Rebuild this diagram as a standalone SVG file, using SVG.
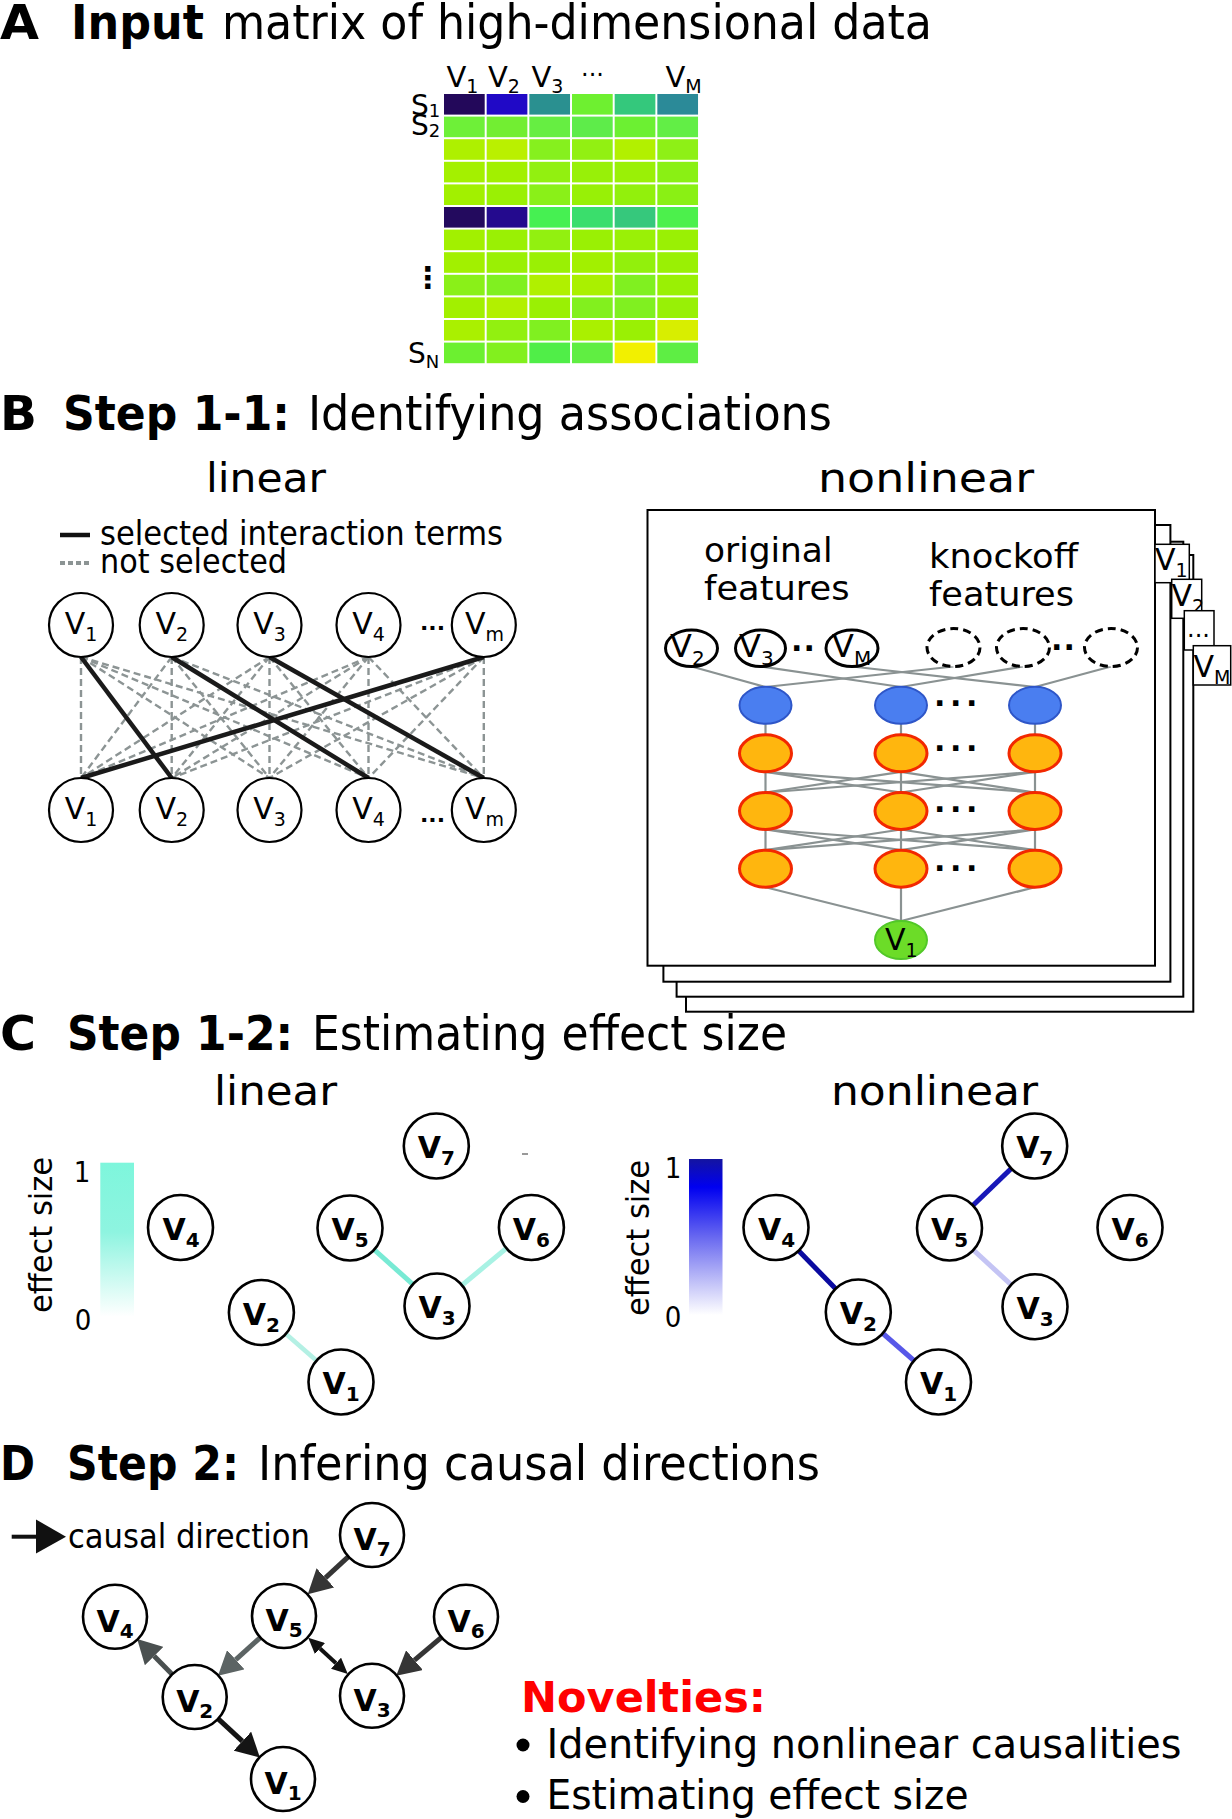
<svg xmlns="http://www.w3.org/2000/svg" width="1232" height="1819" viewBox="0 0 1232 1819">
<style>
.f{font-family:"DejaVu Sans",sans-serif}
.fc{font-family:"DejaVu Sans Condensed","DejaVu Sans",sans-serif}
.bd{font-family:"DejaVu Sans",sans-serif;font-weight:bold}
.ttl{font-size:48px}
.sub{font-size:40px}
.node{fill:#fff;stroke:#000;stroke-width:2.6}
.bn{fill:#fff;stroke:#000;stroke-width:2.2}
.lb{font-family:"DejaVu Sans",sans-serif;font-weight:bold;font-size:30px;text-anchor:middle}
.lb tspan{font-size:20px}
.ln{font-family:"DejaVu Sans",sans-serif;font-size:30px;text-anchor:middle}
.ln tspan{font-size:19px}
.dash{stroke:#8c9494;stroke-width:2.4;stroke-dasharray:7 4;fill:none}
.sel{stroke:#1a1a1a;stroke-width:4.5}
.nn{stroke:#8a9292;stroke-width:2.2}
.blue{fill:#4a7ef0;stroke:#2e56c8;stroke-width:2}
.org{fill:#ffb60e;stroke:#f22800;stroke-width:3}
.inp{fill:#fff;stroke:#000;stroke-width:3}
.ko{fill:#fff;stroke:#000;stroke-width:3;stroke-dasharray:8 5}
.box{fill:#fff;stroke:#000;stroke-width:2}
.tab{fill:#fff;stroke:#000;stroke-width:1.5}
.cell{stroke:none}
.dots{font-family:"DejaVu Sans",sans-serif;font-weight:bold}
</style>
<defs>
<linearGradient id="gLin" x1="0" y1="0" x2="0" y2="1">
<stop offset="0" stop-color="#7ef6dc"/>
<stop offset="0.45" stop-color="#8ef4e0"/>
<stop offset="1" stop-color="#ffffff"/>
</linearGradient>
<linearGradient id="gNon" x1="0" y1="0" x2="0" y2="1">
<stop offset="0" stop-color="#1414a0"/>
<stop offset="0.18" stop-color="#0000f0"/>
<stop offset="0.5" stop-color="#6868f0"/>
<stop offset="0.8" stop-color="#c4c4f8"/>
<stop offset="1" stop-color="#ffffff"/>
</linearGradient>
<marker id="ah333" markerUnits="userSpaceOnUse" markerWidth="24" markerHeight="26" viewBox="0 0 24 26" refX="0" refY="13" orient="auto"><path d="M0,0 L24,13 L0,26 z" fill="#353535"/></marker>
<marker id="ah5c" markerUnits="userSpaceOnUse" markerWidth="24" markerHeight="26" viewBox="0 0 24 26" refX="0" refY="13" orient="auto"><path d="M0,0 L24,13 L0,26 z" fill="#5c6464"/></marker>
<marker id="ah4a" markerUnits="userSpaceOnUse" markerWidth="24" markerHeight="26" viewBox="0 0 24 26" refX="0" refY="13" orient="auto"><path d="M0,0 L24,13 L0,26 z" fill="#4a5050"/></marker>
<marker id="ah15" markerUnits="userSpaceOnUse" markerWidth="24" markerHeight="26" viewBox="0 0 24 26" refX="0" refY="13" orient="auto"><path d="M0,0 L24,13 L0,26 z" fill="#151515"/></marker>
<marker id="ahs" markerUnits="userSpaceOnUse" markerWidth="16" markerHeight="15" viewBox="0 0 16 15" refX="0" refY="7.5" orient="auto-start-reverse"><path d="M0,0 L16,7.5 L0,15 z" fill="#111"/></marker>
</defs>
<rect width="1232" height="1819" fill="#fff"/>

<!-- ===== A ===== -->
<g id="titleA">
<text class="bd ttl" x="0" y="39" textLength="39" lengthAdjust="spacingAndGlyphs">A</text>
<text class="bd ttl" x="71" y="39" textLength="133" lengthAdjust="spacingAndGlyphs">Input</text>
<text class="fc ttl" x="222" y="39" textLength="710" lengthAdjust="spacingAndGlyphs">matrix of high-dimensional data</text>
</g>
<g id="matrix">
<g class="cell">
<rect x="444" y="94" width="40.7" height="20.6" fill="#23085a"/><rect x="486.67" y="94" width="40.7" height="20.6" fill="#2009c6"/><rect x="529.33" y="94" width="40.7" height="20.6" fill="#2a9090"/><rect x="572" y="94" width="40.7" height="20.6" fill="#6ef030"/><rect x="614.67" y="94" width="40.7" height="20.6" fill="#34c87c"/><rect x="657.33" y="94" width="40.7" height="20.6" fill="#2b8a98"/>
<rect x="444" y="116.6" width="40.7" height="20.6" fill="#6ef038"/><rect x="486.67" y="116.6" width="40.7" height="20.6" fill="#72ee32"/><rect x="529.33" y="116.6" width="40.7" height="20.6" fill="#66ee42"/><rect x="572" y="116.6" width="40.7" height="20.6" fill="#5eec4a"/><rect x="614.67" y="116.6" width="40.7" height="20.6" fill="#6cf032"/><rect x="657.33" y="116.6" width="40.7" height="20.6" fill="#62ee46"/>
<rect x="444" y="139.2" width="40.7" height="20.6" fill="#aef000"/><rect x="486.67" y="139.2" width="40.7" height="20.6" fill="#baf000"/><rect x="529.33" y="139.2" width="40.7" height="20.6" fill="#86f01e"/><rect x="572" y="139.2" width="40.7" height="20.6" fill="#92f012"/><rect x="614.67" y="139.2" width="40.7" height="20.6" fill="#b2f000"/><rect x="657.33" y="139.2" width="40.7" height="20.6" fill="#8ef016"/>
<rect x="444" y="161.8" width="40.7" height="20.6" fill="#a4f000"/><rect x="486.67" y="161.8" width="40.7" height="20.6" fill="#a2f000"/><rect x="529.33" y="161.8" width="40.7" height="20.6" fill="#92f010"/><rect x="572" y="161.8" width="40.7" height="20.6" fill="#98f008"/><rect x="614.67" y="161.8" width="40.7" height="20.6" fill="#9af006"/><rect x="657.33" y="161.8" width="40.7" height="20.6" fill="#8af014"/>
<rect x="444" y="184.4" width="40.7" height="20.6" fill="#a2f000"/><rect x="486.67" y="184.4" width="40.7" height="20.6" fill="#9af004"/><rect x="529.33" y="184.4" width="40.7" height="20.6" fill="#8af018"/><rect x="572" y="184.4" width="40.7" height="20.6" fill="#98f006"/><rect x="614.67" y="184.4" width="40.7" height="20.6" fill="#92f00c"/><rect x="657.33" y="184.4" width="40.7" height="20.6" fill="#8af014"/>
<rect x="444" y="207" width="40.7" height="20.6" fill="#230a5e"/><rect x="486.67" y="207" width="40.7" height="20.6" fill="#240a8e"/><rect x="529.33" y="207" width="40.7" height="20.6" fill="#46f052"/><rect x="572" y="207" width="40.7" height="20.6" fill="#3ade6c"/><rect x="614.67" y="207" width="40.7" height="20.6" fill="#36c87c"/><rect x="657.33" y="207" width="40.7" height="20.6" fill="#4cf04c"/>
<rect x="444" y="229.6" width="40.7" height="20.6" fill="#a2f000"/><rect x="486.67" y="229.6" width="40.7" height="20.6" fill="#9af004"/><rect x="529.33" y="229.6" width="40.7" height="20.6" fill="#92f010"/><rect x="572" y="229.6" width="40.7" height="20.6" fill="#9af004"/><rect x="614.67" y="229.6" width="40.7" height="20.6" fill="#9af006"/><rect x="657.33" y="229.6" width="40.7" height="20.6" fill="#9af004"/>
<rect x="444" y="252.2" width="40.7" height="20.6" fill="#a2f000"/><rect x="486.67" y="252.2" width="40.7" height="20.6" fill="#9af004"/><rect x="529.33" y="252.2" width="40.7" height="20.6" fill="#9af004"/><rect x="572" y="252.2" width="40.7" height="20.6" fill="#a2f000"/><rect x="614.67" y="252.2" width="40.7" height="20.6" fill="#92f00c"/><rect x="657.33" y="252.2" width="40.7" height="20.6" fill="#9af004"/>
<rect x="444" y="274.8" width="40.7" height="20.6" fill="#8af018"/><rect x="486.67" y="274.8" width="40.7" height="20.6" fill="#80f020"/><rect x="529.33" y="274.8" width="40.7" height="20.6" fill="#b0f000"/><rect x="572" y="274.8" width="40.7" height="20.6" fill="#aaf000"/><rect x="614.67" y="274.8" width="40.7" height="20.6" fill="#80f020"/><rect x="657.33" y="274.8" width="40.7" height="20.6" fill="#9af004"/>
<rect x="444" y="297.4" width="40.7" height="20.6" fill="#a2f000"/><rect x="486.67" y="297.4" width="40.7" height="20.6" fill="#b2f000"/><rect x="529.33" y="297.4" width="40.7" height="20.6" fill="#9af004"/><rect x="572" y="297.4" width="40.7" height="20.6" fill="#82f01e"/><rect x="614.67" y="297.4" width="40.7" height="20.6" fill="#80f020"/><rect x="657.33" y="297.4" width="40.7" height="20.6" fill="#98f006"/>
<rect x="444" y="320" width="40.7" height="20.6" fill="#aaf000"/><rect x="486.67" y="320" width="40.7" height="20.6" fill="#92f010"/><rect x="529.33" y="320" width="40.7" height="20.6" fill="#80f020"/><rect x="572" y="320" width="40.7" height="20.6" fill="#aaf000"/><rect x="614.67" y="320" width="40.7" height="20.6" fill="#9af004"/><rect x="657.33" y="320" width="40.7" height="20.6" fill="#d8ee00"/>
<rect x="444" y="342.6" width="40.7" height="20.6" fill="#6cf030"/><rect x="486.67" y="342.6" width="40.7" height="20.6" fill="#82f01e"/><rect x="529.33" y="342.6" width="40.7" height="20.6" fill="#50ee48"/><rect x="572" y="342.6" width="40.7" height="20.6" fill="#60ee42"/><rect x="614.67" y="342.6" width="40.7" height="20.6" fill="#f2f000"/><rect x="657.33" y="342.6" width="40.7" height="20.6" fill="#5eee44"/>
</g>
<g class="f" font-size="29">
<text x="446.5" y="86.5">V<tspan font-size="19" dy="6">1</tspan></text>
<text x="488" y="86.5">V<tspan font-size="19" dy="6">2</tspan></text>
<text x="531.5" y="86.5">V<tspan font-size="19" dy="6">3</tspan></text>
<text x="581" y="75.5" font-size="24">...</text>
<text x="665.5" y="86.5">V<tspan font-size="19" dy="6">M</tspan></text>
</g>
<g class="f" font-size="28">
<text x="411" y="115">S<tspan font-size="18" dy="2">1</tspan></text>
<text x="411" y="135">S<tspan font-size="18" dy="2">2</tspan></text>
<text x="428" y="288" font-size="30" text-anchor="middle" font-weight="bold">⋮</text>
<text x="408" y="363">S<tspan font-size="18" dy="5">N</tspan></text>
</g>
</g>

<!-- ===== B ===== -->
<g id="titleB">
<text class="bd ttl" x="0" y="430" textLength="37" lengthAdjust="spacingAndGlyphs">B</text>
<text class="bd ttl" x="63" y="430" textLength="227" lengthAdjust="spacingAndGlyphs">Step 1-1:</text>
<text class="fc ttl" x="308" y="430" textLength="524" lengthAdjust="spacingAndGlyphs">Identifying associations</text>
<text class="fc sub" x="206" y="492" textLength="120" lengthAdjust="spacingAndGlyphs">linear</text>
<text class="fc sub" x="818" y="492" textLength="216" lengthAdjust="spacingAndGlyphs">nonlinear</text>
</g>
<g id="legendB">
<line x1="60" y1="535" x2="90" y2="535" stroke="#111" stroke-width="4.5"/>
<line x1="60" y1="563" x2="90" y2="563" stroke="#8c9494" stroke-width="4" stroke-dasharray="5 3"/>
<text class="fc" font-size="33" x="100" y="545" textLength="403" lengthAdjust="spacingAndGlyphs">selected interaction terms</text>
<text class="fc" font-size="33" x="100" y="573" textLength="187" lengthAdjust="spacingAndGlyphs">not selected</text>
</g>
<g id="connectorsB">
<line class="dash" x1="81" y1="657" x2="81" y2="778"/>
<line class="dash" x1="81" y1="657" x2="269.5" y2="778"/>
<line class="dash" x1="81" y1="657" x2="368.5" y2="778"/>
<line class="dash" x1="81" y1="657" x2="483.8" y2="778"/>
<line class="dash" x1="171.7" y1="657" x2="81" y2="778"/>
<line class="dash" x1="171.7" y1="657" x2="171.7" y2="778"/>
<line class="dash" x1="171.7" y1="657" x2="269.5" y2="778"/>
<line class="dash" x1="171.7" y1="657" x2="483.8" y2="778"/>
<line class="dash" x1="269.5" y1="657" x2="81" y2="778"/>
<line class="dash" x1="269.5" y1="657" x2="171.7" y2="778"/>
<line class="dash" x1="269.5" y1="657" x2="269.5" y2="778"/>
<line class="dash" x1="269.5" y1="657" x2="368.5" y2="778"/>
<line class="dash" x1="368.5" y1="657" x2="81" y2="778"/>
<line class="dash" x1="368.5" y1="657" x2="171.7" y2="778"/>
<line class="dash" x1="368.5" y1="657" x2="269.5" y2="778"/>
<line class="dash" x1="368.5" y1="657" x2="368.5" y2="778"/>
<line class="dash" x1="368.5" y1="657" x2="483.8" y2="778"/>
<line class="dash" x1="483.8" y1="657" x2="171.7" y2="778"/>
<line class="dash" x1="483.8" y1="657" x2="269.5" y2="778"/>
<line class="dash" x1="483.8" y1="657" x2="368.5" y2="778"/>
<line class="dash" x1="483.8" y1="657" x2="483.8" y2="778"/>
<line class="sel" x1="81" y1="657" x2="171.7" y2="778"/>
<line class="sel" x1="171.7" y1="657" x2="368.5" y2="778"/>
<line class="sel" x1="269.5" y1="657" x2="483.8" y2="778"/>
<line class="sel" x1="483.8" y1="657" x2="81" y2="778"/>
</g>
<g id="b-top-v1"><circle class="bn" cx="81" cy="625" r="32"/><text class="ln" x="81" y="634">V<tspan dy="7">1</tspan></text></g>
<g id="b-top-v2"><circle class="bn" cx="171.7" cy="625" r="32"/><text class="ln" x="171.7" y="634">V<tspan dy="7">2</tspan></text></g>
<g id="b-top-v3"><circle class="bn" cx="269.5" cy="625" r="32"/><text class="ln" x="269.5" y="634">V<tspan dy="7">3</tspan></text></g>
<g id="b-top-v4"><circle class="bn" cx="368.5" cy="625" r="32"/><text class="ln" x="368.5" y="634">V<tspan dy="7">4</tspan></text></g>
<text class="dots" x="420" y="630" font-size="22">...</text>
<g id="b-top-vm"><circle class="bn" cx="483.8" cy="625" r="32"/><text class="ln" x="484.5" y="634">V<tspan dy="7">m</tspan></text></g>
<g id="b-bot-v1"><circle class="bn" cx="81" cy="810" r="32"/><text class="ln" x="81" y="819">V<tspan dy="7">1</tspan></text></g>
<g id="b-bot-v2"><circle class="bn" cx="171.7" cy="810" r="32"/><text class="ln" x="171.7" y="819">V<tspan dy="7">2</tspan></text></g>
<g id="b-bot-v3"><circle class="bn" cx="269.5" cy="810" r="32"/><text class="ln" x="269.5" y="819">V<tspan dy="7">3</tspan></text></g>
<g id="b-bot-v4"><circle class="bn" cx="368.5" cy="810" r="32"/><text class="ln" x="368.5" y="819">V<tspan dy="7">4</tspan></text></g>
<text class="dots" x="420" y="822" font-size="22">...</text>
<g id="b-bot-vm"><circle class="bn" cx="483.8" cy="810" r="32"/><text class="ln" x="484.5" y="819">V<tspan dy="7">m</tspan></text></g>

<!-- nonlinear stack -->
<g id="stack">
<rect class="box" x="686" y="555" width="507.3" height="456.7"/>
<rect class="box" x="676.6" y="541.7" width="506.7" height="455"/>
<rect class="box" x="663.4" y="525" width="507" height="456.7"/>
<rect class="box" x="647.5" y="510" width="507.5" height="455.7"/>
</g>
<g id="tabs">
<rect class="tab" x="1155" y="544.3" width="34.3" height="38.4"/>
<text class="f" font-size="30" x="1155" y="570">V<tspan font-size="19" dy="7">1</tspan></text>
<rect class="tab" x="1171.7" y="579.3" width="30" height="39"/>
<text class="f" font-size="30" x="1171.5" y="606">V<tspan font-size="19" dy="7">2</tspan></text>
<rect class="tab" x="1184.3" y="610.7" width="29.7" height="39.3"/>
<text class="f" font-size="24" x="1187" y="637">...</text>
<rect class="tab" x="1193.3" y="645.7" width="37.4" height="39.3"/>
<text class="f" font-size="30" x="1193.5" y="676.5">V<tspan font-size="19" dy="7">M</tspan></text>
</g>
<g id="nnText">
<text class="f" font-size="34" x="704" y="561.5" textLength="128.5" lengthAdjust="spacingAndGlyphs">original</text>
<text class="f" font-size="34" x="704" y="599.5" textLength="145.5" lengthAdjust="spacingAndGlyphs">features</text>
<text class="f" font-size="34" x="929" y="568" textLength="149" lengthAdjust="spacingAndGlyphs">knockoff</text>
<text class="f" font-size="34" x="929" y="606" textLength="145" lengthAdjust="spacingAndGlyphs">features</text>
</g>
<g id="connectorsNN">
<line class="nn" x1="691.5" y1="666.5" x2="765.5" y2="687"/>
<line class="nn" x1="760.5" y1="666.5" x2="901" y2="687"/>
<line class="nn" x1="852" y1="666.5" x2="1035" y2="687"/>
<line class="nn" x1="953.5" y1="666.5" x2="765.5" y2="687"/>
<line class="nn" x1="1023" y1="666.5" x2="901" y2="687"/>
<line class="nn" x1="1111" y1="666.5" x2="1035" y2="687"/>
<line class="nn" x1="765.5" y1="724" x2="765.5" y2="735"/>
<line class="nn" x1="901" y1="724" x2="901" y2="735"/>
<line class="nn" x1="1035" y1="724" x2="1035" y2="735"/>
<line class="nn" x1="765.5" y1="771.8" x2="765.5" y2="792.5"/>
<line class="nn" x1="765.5" y1="771.8" x2="901" y2="792.5"/>
<line class="nn" x1="765.5" y1="771.8" x2="1035" y2="792.5"/>
<line class="nn" x1="901" y1="771.8" x2="765.5" y2="792.5"/>
<line class="nn" x1="901" y1="771.8" x2="901" y2="792.5"/>
<line class="nn" x1="901" y1="771.8" x2="1035" y2="792.5"/>
<line class="nn" x1="1035" y1="771.8" x2="765.5" y2="792.5"/>
<line class="nn" x1="1035" y1="771.8" x2="901" y2="792.5"/>
<line class="nn" x1="1035" y1="771.8" x2="1035" y2="792.5"/>
<line class="nn" x1="765.5" y1="829.5" x2="765.5" y2="850.2"/>
<line class="nn" x1="765.5" y1="829.5" x2="901" y2="850.2"/>
<line class="nn" x1="765.5" y1="829.5" x2="1035" y2="850.2"/>
<line class="nn" x1="901" y1="829.5" x2="765.5" y2="850.2"/>
<line class="nn" x1="901" y1="829.5" x2="901" y2="850.2"/>
<line class="nn" x1="901" y1="829.5" x2="1035" y2="850.2"/>
<line class="nn" x1="1035" y1="829.5" x2="765.5" y2="850.2"/>
<line class="nn" x1="1035" y1="829.5" x2="901" y2="850.2"/>
<line class="nn" x1="1035" y1="829.5" x2="1035" y2="850.2"/>
<line class="nn" x1="765.5" y1="887.2" x2="901" y2="921"/>
<line class="nn" x1="901" y1="887.2" x2="901" y2="921"/>
<line class="nn" x1="1035" y1="887.2" x2="901" y2="921"/>
</g>
<g id="nn-in-v2"><ellipse class="inp" cx="691.5" cy="648.3" rx="26" ry="18.3"/><text class="f" font-size="32" x="670" y="656.7">V<tspan font-size="20" dy="8">2</tspan></text></g>
<g id="nn-in-v3"><ellipse class="inp" cx="760.5" cy="648.3" rx="25" ry="18.3"/><text class="f" font-size="32" x="739" y="656.7">V<tspan font-size="20" dy="8">3</tspan></text></g>
<text class="dots" x="791" y="651" font-size="30" letter-spacing="1">..</text>
<g id="nn-in-vm"><ellipse class="inp" cx="852" cy="648.3" rx="26" ry="18.3"/><text class="f" font-size="32" x="832" y="656.7">V<tspan font-size="20" dy="8">M</tspan></text></g>
<g id="nn-ko1"><ellipse class="ko" cx="953.5" cy="647.5" rx="26.5" ry="19"/></g>
<g id="nn-ko2"><ellipse class="ko" cx="1023" cy="647.5" rx="26.5" ry="19"/></g>
<text class="dots" x="1051" y="650" font-size="30" letter-spacing="1">..</text>
<g id="nn-ko3"><ellipse class="ko" cx="1111" cy="647.5" rx="26.5" ry="19"/></g>
<g id="nn-blue"><ellipse class="blue" cx="765.5" cy="705.3" rx="26" ry="18.5"/><ellipse class="blue" cx="901" cy="705.3" rx="26" ry="18.5"/><ellipse class="blue" cx="1035" cy="705.3" rx="26" ry="18.5"/></g>
<g id="nn-o1"><ellipse class="org" cx="765.5" cy="753.3" rx="26" ry="18.5"/><ellipse class="org" cx="901" cy="753.3" rx="26" ry="18.5"/><ellipse class="org" cx="1035" cy="753.3" rx="26" ry="18.5"/></g>
<g id="nn-o2"><ellipse class="org" cx="765.5" cy="811" rx="26" ry="18.5"/><ellipse class="org" cx="901" cy="811" rx="26" ry="18.5"/><ellipse class="org" cx="1035" cy="811" rx="26" ry="18.5"/></g>
<g id="nn-o3"><ellipse class="org" cx="765.5" cy="868.7" rx="26" ry="18.5"/><ellipse class="org" cx="901" cy="868.7" rx="26" ry="18.5"/><ellipse class="org" cx="1035" cy="868.7" rx="26" ry="18.5"/></g>
<g class="dots" font-size="30" letter-spacing="4.6">
<text x="934" y="706">...</text>
<text x="934" y="751">...</text>
<text x="934" y="812">...</text>
<text x="934" y="871">...</text>
</g>
<g id="nn-out-v1"><ellipse cx="901" cy="940" rx="26" ry="19" fill="#6cdc28" stroke="#52c828" stroke-width="2"/><text class="f" font-size="30" x="885" y="950">V<tspan font-size="19" dy="7">1</tspan></text></g>

<!-- ===== C ===== -->
<g id="titleC">
<text class="bd ttl" x="0" y="1050" textLength="36" lengthAdjust="spacingAndGlyphs">C</text>
<text class="bd ttl" x="67" y="1050" textLength="226" lengthAdjust="spacingAndGlyphs">Step 1-2:</text>
<text class="fc ttl" x="312" y="1050" textLength="475" lengthAdjust="spacingAndGlyphs">Estimating effect size</text>
<text class="fc sub" x="214" y="1105" textLength="123" lengthAdjust="spacingAndGlyphs">linear</text>
<text class="fc sub" x="831" y="1105" textLength="207" lengthAdjust="spacingAndGlyphs">nonlinear</text>
</g>
<g id="colorbarLin">
<rect x="100.3" y="1162.7" width="33.7" height="154" fill="url(#gLin)"/>
<text class="fc" font-size="32" transform="translate(52,1235) rotate(-90)" text-anchor="middle" textLength="156" lengthAdjust="spacingAndGlyphs">effect size</text>
<text class="fc" font-size="29" x="82" y="1182" text-anchor="middle">1</text>
<text class="fc" font-size="29" x="83" y="1330" text-anchor="middle">0</text>
</g>
<g id="colorbarNon">
<rect x="689" y="1159" width="33.5" height="156" fill="url(#gNon)"/>
<text class="fc" font-size="32" transform="translate(649,1238) rotate(-90)" text-anchor="middle" textLength="156" lengthAdjust="spacingAndGlyphs">effect size</text>
<text class="fc" font-size="29" x="673" y="1178" text-anchor="middle">1</text>
<text class="fc" font-size="29" x="673" y="1327" text-anchor="middle">0</text>
</g>
<g id="connectorsC">
<line x1="350" y1="1228" x2="437" y2="1306" stroke="#78ead4" stroke-width="5"/>
<line x1="531.4" y1="1227.5" x2="437" y2="1306" stroke="#a8f2e4" stroke-width="5"/>
<line x1="261.4" y1="1312.5" x2="341" y2="1382" stroke="#b4f0e4" stroke-width="4.5"/>
<line x1="522" y1="1154" x2="528" y2="1154" stroke="#777" stroke-width="1.5"/>
<line x1="776" y1="1227.5" x2="858.3" y2="1312" stroke="#0a0aa0" stroke-width="5"/>
<line x1="858.3" y1="1312" x2="938.5" y2="1382" stroke="#5858e8" stroke-width="5"/>
<line x1="949.5" y1="1228" x2="1034.7" y2="1146" stroke="#1818b8" stroke-width="5"/>
<line x1="949.5" y1="1228" x2="1035" y2="1306.7" stroke="#c4c4f4" stroke-width="5"/>
</g>
<g id="cl-v4"><circle class="node" cx="180.5" cy="1227.5" r="32.5"/><text class="lb" x="181" y="1239.5">V<tspan dy="7">4</tspan></text></g>
<g id="cl-v7"><circle class="node" cx="436.3" cy="1146" r="32.5"/><text class="lb" x="436.3" y="1158">V<tspan dy="7">7</tspan></text></g>
<g id="cl-v5"><circle class="node" cx="350" cy="1228" r="32.5"/><text class="lb" x="350" y="1240">V<tspan dy="7">5</tspan></text></g>
<g id="cl-v6"><circle class="node" cx="531.4" cy="1227.5" r="32.5"/><text class="lb" x="531.4" y="1239.5">V<tspan dy="7">6</tspan></text></g>
<g id="cl-v3"><circle class="node" cx="437" cy="1306" r="32.5"/><text class="lb" x="437" y="1318">V<tspan dy="7">3</tspan></text></g>
<g id="cl-v2"><circle class="node" cx="261.4" cy="1312.5" r="32.5"/><text class="lb" x="261.4" y="1324.5">V<tspan dy="7">2</tspan></text></g>
<g id="cl-v1"><circle class="node" cx="341" cy="1382" r="32.5"/><text class="lb" x="341" y="1394">V<tspan dy="7">1</tspan></text></g>
<g id="cn-v4"><circle class="node" cx="776" cy="1227.5" r="32.5"/><text class="lb" x="776.5" y="1239.5">V<tspan dy="7">4</tspan></text></g>
<g id="cn-v7"><circle class="node" cx="1034.7" cy="1146" r="32.5"/><text class="lb" x="1034.7" y="1158">V<tspan dy="7">7</tspan></text></g>
<g id="cn-v5"><circle class="node" cx="949.5" cy="1228" r="32.5"/><text class="lb" x="949.5" y="1240">V<tspan dy="7">5</tspan></text></g>
<g id="cn-v6"><circle class="node" cx="1130" cy="1227.5" r="32.5"/><text class="lb" x="1130" y="1239.5">V<tspan dy="7">6</tspan></text></g>
<g id="cn-v3"><circle class="node" cx="1035" cy="1306.7" r="32.5"/><text class="lb" x="1035" y="1318.7">V<tspan dy="7">3</tspan></text></g>
<g id="cn-v2"><circle class="node" cx="858.3" cy="1312" r="32.5"/><text class="lb" x="858.3" y="1324">V<tspan dy="7">2</tspan></text></g>
<g id="cn-v1"><circle class="node" cx="938.5" cy="1382" r="32.5"/><text class="lb" x="938.5" y="1394">V<tspan dy="7">1</tspan></text></g>

<!-- ===== D ===== -->
<g id="titleD">
<text class="bd ttl" x="0" y="1480" textLength="35" lengthAdjust="spacingAndGlyphs">D</text>
<text class="bd ttl" x="67" y="1480" textLength="172" lengthAdjust="spacingAndGlyphs">Step 2:</text>
<text class="fc ttl" x="258" y="1480" textLength="562" lengthAdjust="spacingAndGlyphs">Infering causal directions</text>
</g>
<g id="legendD">
<line x1="11.7" y1="1536.7" x2="37" y2="1536.7" stroke="#111" stroke-width="4"/>
<path d="M36,1519.5 L66,1536.7 L36,1553.5 z" fill="#111"/>
<text class="fc" font-size="34" x="68" y="1547.5" textLength="242" lengthAdjust="spacingAndGlyphs">causal direction</text>
</g>
<g id="connectorsD">
<line x1="348.4" y1="1556.7" x2="325.4" y2="1577.9" stroke="#353535" stroke-width="5" marker-end="url(#ah333)"/>
<line x1="260" y1="1637.8" x2="235.8" y2="1659.7" stroke="#5c6464" stroke-width="5" marker-end="url(#ah5c)"/>
<line x1="171.8" y1="1673.9" x2="154.1" y2="1656.1" stroke="#4a5050" stroke-width="5" marker-end="url(#ah4a)"/>
<line x1="441.1" y1="1637.6" x2="414.5" y2="1660.2" stroke="#353535" stroke-width="5" marker-end="url(#ah333)"/>
<line x1="218.5" y1="1719.1" x2="242.3" y2="1741.2" stroke="#151515" stroke-width="5" marker-end="url(#ah15)"/>
<line x1="320" y1="1648.6" x2="336" y2="1663.2" stroke="#111" stroke-width="4" marker-start="url(#ahs)" marker-end="url(#ahs)"/>
</g>
<g id="d-v7"><circle class="node" cx="372" cy="1535" r="32"/><text class="lb" x="372" y="1550">V<tspan dy="6">7</tspan></text></g>
<g id="d-v4"><circle class="node" cx="115" cy="1616.7" r="32"/><text class="lb" x="115" y="1631.7">V<tspan dy="6">4</tspan></text></g>
<g id="d-v5"><circle class="node" cx="284" cy="1616" r="32"/><text class="lb" x="284" y="1631">V<tspan dy="6">5</tspan></text></g>
<g id="d-v6"><circle class="node" cx="466" cy="1616.7" r="32"/><text class="lb" x="466" y="1631.7">V<tspan dy="6">6</tspan></text></g>
<g id="d-v2"><circle class="node" cx="194.7" cy="1697" r="32"/><text class="lb" x="194.7" y="1712">V<tspan dy="6">2</tspan></text></g>
<g id="d-v3"><circle class="node" cx="372" cy="1695.8" r="32"/><text class="lb" x="372" y="1710.8">V<tspan dy="6">3</tspan></text></g>
<g id="d-v1"><circle class="node" cx="283" cy="1779" r="32"/><text class="lb" x="283" y="1794">V<tspan dy="6">1</tspan></text></g>
<g id="novelties">
<text class="bd" font-size="43" x="521" y="1711.5" fill="#ff0000" textLength="245" lengthAdjust="spacingAndGlyphs">Novelties:</text>
<circle cx="523" cy="1745" r="6.5" fill="#000"/>
<text class="fc" font-size="40" x="546.5" y="1757.5" textLength="635" lengthAdjust="spacingAndGlyphs">Identifying nonlinear causalities</text>
<circle cx="523" cy="1796.5" r="6.5" fill="#000"/>
<text class="fc" font-size="40" x="546.5" y="1808.5" textLength="422" lengthAdjust="spacingAndGlyphs">Estimating effect size</text>
</g>
</svg>
